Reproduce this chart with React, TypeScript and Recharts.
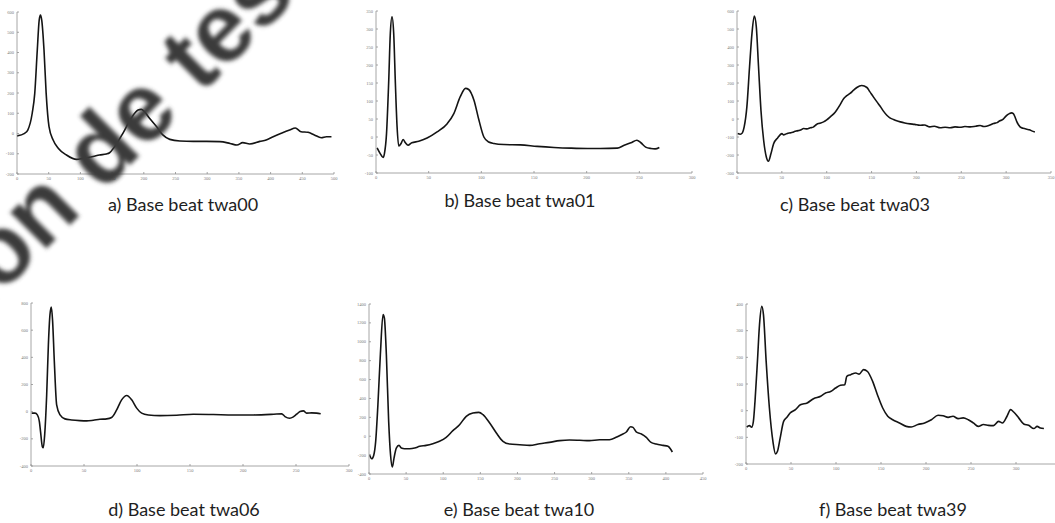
import React from 'react';
import { LineChart, Line, XAxis, YAxis } from 'recharts';

// a) twa00
const twa00Idx = [0, 12, 17, 24, 28, 32, 35, 37, 39, 42.6, 46, 50.5, 57, 65, 78, 94, 104, 120, 130, 141, 146, 154, 167, 180, 191, 196, 201, 209, 220, 230, 241, 257, 278, 299, 320, 336, 347, 356, 367, 383, 393, 404, 417, 430, 439, 448, 459, 469, 480, 488, 496];
const twa00Amp = [-12, 1, 17, 100, 198, 412, 560, 585, 560, 412, 198, 34, -32, -73, -106, -128, -123, -114, -106, -101, -95, -65, 1, 75, 116, 119, 108, 75, 34, -7, -29, -37, -39, -39, -40, -49, -57, -45, -52, -39, -32, -16, 1, 17, 27, 9, 6, -7, -21, -16, -16];
const twa00XTicks = [0, 50, 100, 150, 200, 250, 300, 350, 400, 450, 500];
const twa00YTicks = [-200, -100, 0, 100, 200, 300, 400, 500, 600];

// b) twa01
const twa01Idx = [1, 4, 6.7, 8, 10, 12, 13.6, 15.2, 16.8, 18.4, 20, 21.6, 23.8, 25.7, 27.9, 30.4, 34, 40.6, 48.5, 58, 67.6, 73.9, 80, 85, 88, 93, 97.7, 102.4, 107, 112, 121.5, 137, 153, 169, 185, 200.8, 213, 229, 235.6, 242, 247.7, 251.5, 256, 261, 265, 269];
const twa01Amp = [-30, -46, -57, -46, 10, 149, 288, 334, 288, 149, 29, -25, -18, -7, -16, -23, -16, -12, -3, 14, 37, 65, 112, 135, 132, 102, 47, 0, -14, -18, -21, -22, -26, -29, -31, -32, -32, -31, -23, -16, -9, -16, -28, -32, -33, -29];
const twa01XTicks = [0, 50, 100, 150, 200, 250, 300];
const twa01YTicks = [-100, -50, 0, 50, 100, 150, 200, 250, 300, 350];

// c) twa03
const twa03Idx = [0.7, 3.7, 6, 8, 11, 14, 16.7, 19.3, 21.5, 24, 26.7, 29.7, 32.7, 35, 37.9, 40.8, 45.3, 50, 52, 53.8, 56, 59.4, 62, 64, 66.8, 70, 72, 74, 78, 81.7, 85, 89, 92, 96.5, 100, 104, 108, 111, 115, 119, 122, 126, 130, 133.6, 139, 144.8, 148, 152, 156, 159.6, 163, 167, 170, 174.5, 178, 182, 187, 193, 198, 204, 209, 215, 220, 226.4, 232, 237.6, 243, 248.7, 254, 260, 266, 271, 275, 278, 282, 286, 290, 293, 296, 299, 301, 303.6, 306, 308, 310, 312, 315.5, 319, 323, 326, 328.5, 332];
const twa03Amp = [-81, -85, -77, -44, 67, 290, 476, 572, 513, 290, 49, -118, -211, -235, -192, -137, -105, -81, -88, -85, -80, -77, -74, -70, -66, -62, -58, -53, -55, -49, -45, -29, -24, -16, -5, 12, 30, 49, 80, 114, 128, 142, 160, 175, 186, 175, 152, 123, 95, 71, 45, 21, 8, -3, -10, -16, -22, -27, -30, -35, -33, -44, -40, -49, -46, -49, -44, -46, -42, -44, -40, -36, -42, -40, -34, -25, -20, -10, -4, 12, 22, 30, 34, 30, 10, -16, -44, -52, -57, -60, -66, -72];
const twa03XTicks = [0, 50, 100, 150, 200, 250, 300, 350];
const twa03YTicks = [-300, -200, -100, 0, 100, 200, 300, 400, 500, 600];

// d) twa06
const twa06Idx = [0.6, 3.8, 6, 7.9, 9, 10.7, 11.6, 12.9, 14.8, 16.4, 17.9, 19.2, 20.4, 22, 24.2, 27.4, 32, 38.4, 46, 52.5, 58.8, 65, 71.4, 76, 80.8, 85.5, 90.3, 95, 99.7, 104.4, 110.7, 121.7, 137.4, 153, 172, 191, 210, 229, 236.5, 239.6, 244, 247.5, 250.6, 253.8, 257, 260, 264.8, 269.5, 273.3];
const twa06Amp = [-11, -11, -24, -73, -147, -257, -265, -171, 124, 493, 714, 770, 665, 370, 50, -24, -53, -61, -66, -68, -63, -56, -53, -43, 13, 87, 119, 87, 26, -11, -24, -29, -26, -19, -21, -24, -24, -19, -16, -36, -48, -38, -19, 1, 6, -11, -9, -11, -16];
const twa06XTicks = [0, 50, 100, 150, 200, 250, 300];
const twa06YTicks = [-400, -200, 0, 200, 400, 600, 800];

// e) twa10
const twa10Idx = [0.9, 3.6, 6.3, 9, 12, 15.3, 18.9, 20.7, 23.4, 26.5, 29, 31.4, 33.7, 36.8, 40.4, 43.6, 48, 54.8, 61.5, 68.3, 77, 86, 95, 104, 113, 122, 131, 140, 148, 153.6, 162.6, 171.6, 180.5, 189.5, 203, 216.5, 230, 243, 257, 270, 284, 297, 310.8, 324, 333, 340, 346.7, 352.5, 355.7, 360, 367, 373.6, 380, 387, 396, 402.8, 406, 408.7];
const twa10Amp = [-195, -238, -203, -54, 334, 863, 1287, 1252, 863, 157, -195, -326, -231, -125, -97, -125, -132, -132, -125, -107, -97, -79, -54, -12, 59, 122, 211, 246, 253, 228, 140, 34, -54, -83, -90, -97, -79, -65, -47, -40, -43, -47, -37, -37, -12, 16, 45, 101, 94, 45, 23, -12, -65, -83, -97, -107, -132, -167];
const twa10XTicks = [0, 50, 100, 150, 200, 250, 300, 350, 400, 450];
const twa10YTicks = [-400, -200, 0, 200, 400, 600, 800, 1000, 1200, 1400];

// f) twa39 (axis runs to 350, only ticks up to 300 fit on the page)
const twa39Idx = [0.7, 3.7, 6.3, 8.2, 10, 12.7, 15, 17.5, 19.4, 22.4, 26, 29.9, 32.8, 35, 38, 41.8, 45.5, 49, 55, 60.4, 68, 75, 83, 88.4, 94, 99.6, 105, 109.7, 112, 116.4, 122, 125.7, 130.6, 135, 140.7, 146, 151.9, 157.5, 163, 170.5, 178, 183.6, 191, 198.5, 206, 213.4, 219, 224.6, 230, 235.8, 241.4, 247, 252.6, 258, 263.8, 269.4, 275, 280.6, 285, 290, 294, 297.4, 303, 308.6, 314, 319.8, 323.5, 327, 331];
const twa39Amp = [-62, -56, -62, -40, 35, 185, 322, 391, 360, 185, 10, -115, -162, -152, -102, -40, -25, -9, 4, 22, 29, 45, 54, 66, 72, 85, 95, 97, 129, 135, 141, 137, 154, 147, 110, 60, 10, -21, -34, -46, -59, -61, -52, -46, -34, -17, -19, -25, -21, -30, -27, -34, -46, -59, -52, -55, -56, -40, -46, -21, 4, -5, -27, -50, -55, -67, -59, -65, -67];
const twa39XTicks = [0, 50, 100, 150, 200, 250, 300];
const twa39YTicks = [-200, -100, 0, 100, 200, 300, 400];

const FRAME = '#8f8f8f';
const TICK_TEXT = '#7a7a7a';
const TRACE = '#141414';
const TICK_LEN = 2;

const Y_AXIS_W = 22;
const TOP_PAD = 4;
const RIGHT_PAD = 4;
const X_AXIS_H = 12;

type Box = { left: number; top: number; right: number; bottom: number };

type PanelDef = {
  idx: number[];
  amp: number[];
  xTicks: number[];
  yTicks: number[];
  xMax: number;
  box: Box;
};

const panels: PanelDef[] = [
  { idx: twa00Idx, amp: twa00Amp, xTicks: twa00XTicks, yTicks: twa00YTicks, xMax: 500, box: { left: 17, top: 12, right: 334, bottom: 174 } },
  { idx: twa01Idx, amp: twa01Amp, xTicks: twa01XTicks, yTicks: twa01YTicks, xMax: 300, box: { left: 376, top: 11, right: 692, bottom: 173 } },
  { idx: twa03Idx, amp: twa03Amp, xTicks: twa03XTicks, yTicks: twa03YTicks, xMax: 350, box: { left: 737, top: 11, right: 1051, bottom: 173 } },
  { idx: twa06Idx, amp: twa06Amp, xTicks: twa06XTicks, yTicks: twa06YTicks, xMax: 300, box: { left: 31, top: 303, right: 349, bottom: 466 } },
  { idx: twa10Idx, amp: twa10Amp, xTicks: twa10XTicks, yTicks: twa10YTicks, xMax: 450, box: { left: 369, top: 304, right: 703, bottom: 474 } },
  { idx: twa39Idx, amp: twa39Amp, xTicks: twa39XTicks, yTicks: twa39YTicks, xMax: 350, box: { left: 746, top: 304, right: 1061, bottom: 464 } },
];

const captions = [
  { text: 'a) Base beat twa00', x: 183, y: 211 },
  { text: 'b) Base beat twa01', x: 520, y: 207 },
  { text: 'c) Base beat twa03', x: 855, y: 211 },
  { text: 'd) Base beat twa06', x: 184, y: 516 },
  { text: 'e) Base beat twa10', x: 519, y: 516 },
  { text: 'f) Base beat twa39', x: 893, y: 516 },
];

// tick marks point into the plot box, labels sit outside (bottom / left only)
const bottomTick = (p: any) => (
  <g>
    <line x1={p.x} x2={p.x} y1={p.y} y2={p.y - TICK_LEN} stroke={FRAME} strokeWidth={0.8} />
    <text x={p.x} y={p.y + 6} textAnchor="middle" fontSize={4.5} fill={TICK_TEXT}>
      {p.payload.value}
    </text>
  </g>
);

const topTick = (p: any) => (
  <line x1={p.x} x2={p.x} y1={p.y} y2={p.y + TICK_LEN} stroke={FRAME} strokeWidth={0.8} />
);

const leftTick = (p: any) => (
  <g>
    <line x1={p.x} x2={p.x + TICK_LEN} y1={p.y} y2={p.y} stroke={FRAME} strokeWidth={0.8} />
    <text x={p.x - 3} y={p.y + 1.6} textAnchor="end" fontSize={4.5} fill={TICK_TEXT}>
      {p.payload.value}
    </text>
  </g>
);

const rightTick = (p: any) => (
  <line x1={p.x} x2={p.x - TICK_LEN} y1={p.y} y2={p.y} stroke={FRAME} strokeWidth={0.8} />
);

function BeatPanel({ panel }: { panel: PanelDef }) {
  const { idx, amp, xTicks, yTicks, xMax, box } = panel;
  const data = idx.map((x, i) => ({ x, v: amp[i] }));
  const xDomain = [xTicks[0], xMax];
  const yDomain = [yTicks[0], yTicks[yTicks.length - 1]];
  const w = Y_AXIS_W + (box.right - box.left) + RIGHT_PAD;
  const h = TOP_PAD + (box.bottom - box.top) + X_AXIS_H;

  return (
    <div style={{ position: 'absolute', left: box.left - Y_AXIS_W, top: box.top - TOP_PAD }}>
      <LineChart width={w} height={h} data={data} margin={{ top: TOP_PAD, right: RIGHT_PAD, left: 0, bottom: 0 }}>
        <XAxis
          xAxisId="b"
          dataKey="x"
          type="number"
          domain={xDomain}
          ticks={xTicks}
          interval={0}
          allowDataOverflow
          height={X_AXIS_H}
          tickSize={0}
          tickMargin={0}
          tickLine={false}
          axisLine={{ stroke: FRAME, strokeWidth: 0.8 }}
          tick={bottomTick}
        />
        <XAxis
          xAxisId="t"
          orientation="top"
          dataKey="x"
          type="number"
          domain={xDomain}
          ticks={xTicks}
          interval={0}
          allowDataOverflow
          height={0}
          tickSize={0}
          tickMargin={0}
          tickLine={false}
          axisLine={{ stroke: FRAME, strokeWidth: 0.8 }}
          tick={topTick}
        />
        <YAxis
          yAxisId="l"
          type="number"
          domain={yDomain}
          ticks={yTicks}
          interval={0}
          allowDataOverflow
          width={Y_AXIS_W}
          tickSize={0}
          tickMargin={0}
          tickLine={false}
          axisLine={{ stroke: FRAME, strokeWidth: 0.8 }}
          tick={leftTick}
        />
        <YAxis
          yAxisId="r"
          orientation="right"
          type="number"
          domain={yDomain}
          ticks={yTicks}
          interval={0}
          allowDataOverflow
          width={0}
          tickSize={0}
          tickMargin={0}
          tickLine={false}
          axisLine={{ stroke: FRAME, strokeWidth: 0.8 }}
          tick={rightTick}
        />
        <Line
          xAxisId="b"
          yAxisId="l"
          type="monotone"
          dataKey="v"
          stroke={TRACE}
          strokeWidth={1.6}
          dot={false}
          isAnimationActive={false}
        />
      </LineChart>
    </div>
  );
}

export default function App() {
  return (
    <div
      style={{
        position: 'absolute',
        left: 0,
        top: 0,
        width: 1055,
        height: 523,
        overflow: 'hidden',
        background: '#fff',
      }}
    >
      {panels.map((p, i) => (
        <BeatPanel key={i} panel={p} />
      ))}
      <svg width={1055} height={523} style={{ position: 'absolute', left: 0, top: 0, pointerEvents: 'none' }}>
        <defs>
          <filter id="soft" x="-10%" y="-10%" width="120%" height="120%">
            <feGaussianBlur stdDeviation={2} />
          </filter>
        </defs>
        {captions.map((c) => (
          <text key={c.text} x={c.x} y={c.y} textAnchor="middle" fontFamily="Lato, 'Open Sans', sans-serif" fontSize={18} fill="#1e1e1e">
            {c.text}
          </text>
        ))}
        <text
          x={-162}
          y={457}
          transform="rotate(-45 -162 457)"
          fontFamily="'Liberation Sans', Arial, sans-serif"
          fontWeight="bold"
          fontSize={96}
          fill="#3a3a3a"
          filter="url(#soft)"
        >
          Version de test
        </text>
      </svg>
    </div>
  );
}
